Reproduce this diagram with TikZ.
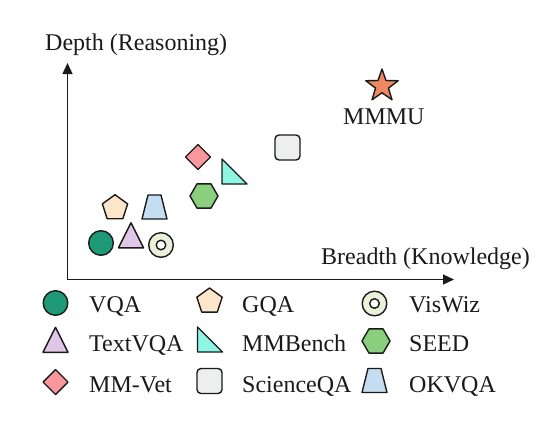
\documentclass[tikz,border=0pt]{standalone}
\usepackage{fontspec}
\setmainfont{Liberation Serif}
\usetikzlibrary{arrows.meta}
\definecolor{cVQA}{HTML}{1F9A76}
\definecolor{cText}{HTML}{E0C7E7}
\definecolor{cViz}{HTML}{E9F1DA}
\definecolor{cGQA}{HTML}{FCE6CB}
\definecolor{cOK}{HTML}{C5DDF1}
\definecolor{cMMV}{HTML}{F9979C}
\definecolor{cMMB}{HTML}{8EF5E3}
\definecolor{cSEED}{HTML}{8ACF7E}
\definecolor{cSci}{HTML}{ECEFED}
\definecolor{cStar}{HTML}{EE8860}
\definecolor{cLine}{HTML}{1A1A1A}
\tikzset{
  mk/.style={draw=cLine, line width=1.4pt, line join=round},
  lbl/.style={inner sep=0pt, anchor=base west, font=\fontsize{24}{28}\selectfont, text=cLine},
  axisline/.style={draw=cLine, line width=1.3pt, -{Triangle[length=11pt,width=10pt]}},
  pics/vqa/.style={code={\draw[mk,fill=cVQA] (0,0) circle (12.3pt);}},
  pics/textvqa/.style={code={\draw[mk,fill=cText] (-12.5pt,-12.3pt) -- (0pt,12.7pt) -- (12.5pt,-12.3pt) -- cycle;}},
  pics/viswiz/.style={code={\draw[mk,fill=cViz] (0,0) circle (12.3pt); \draw[mk,fill=white] (0,0) circle (4.8pt);}},
  pics/gqa/.style={code={\draw[mk,fill=cGQA] (90:13.3pt) -- (162:13.3pt) -- (234:13.3pt) -- (306:13.3pt) -- (18:13.3pt) -- cycle;}},
  pics/okvqa/.style={code={\draw[mk,fill=cOK] (-12.5pt,-12pt) -- (12.5pt,-12pt) -- (6.5pt,12pt) -- (-6.5pt,12pt) -- cycle;}},
  pics/mmvet/.style={code={\draw[mk,fill=cMMV] (0pt,12.5pt) -- (12.5pt,0pt) -- (0pt,-12.5pt) -- (-12.5pt,0pt) -- cycle;}},
  pics/mmbench/.style={code={\draw[mk,fill=cMMB] (-12.5pt,12.5pt) -- (-12.5pt,-12.5pt) -- (12.5pt,-12.5pt) -- cycle;}},
  pics/seed/.style={code={\draw[mk,fill=cSEED] (0:14pt) -- (60:14pt) -- (120:14pt) -- (180:14pt) -- (240:14pt) -- (300:14pt) -- cycle;}},
  pics/sciqa/.style={code={\draw[mk,fill=cSci,rounded corners=4pt] (-12.5pt,-12.5pt) rectangle (12.5pt,12.5pt);}},
  pics/mmmu/.style={code={\draw[mk,fill=cStar] (90:17pt) -- (126:6.8pt) -- (162:17pt) -- (198:6.8pt) -- (234:17pt) -- (270:6.8pt) -- (306:17pt) -- (342:6.8pt) -- (18:17pt) -- (54:6.8pt) -- cycle;}},
}
\begin{document}
\begin{tikzpicture}[x=1pt,y=-1pt]
\useasboundingbox[fill=white] (0,0) rectangle (540,429);
% axes
\coordinate (origin) at (67.5,279.5);
\coordinate (ytip) at (67.5,63);
\coordinate (xtip) at (454,279.5);
\draw[axisline] (origin) -- (ytip);
\draw[axisline] (origin) -- (xtip);
\node[lbl] (ylabel) at (45,50) {Depth (Reasoning)};
\node[lbl] (xlabel) at (321,264) {Breadth (Knowledge)};
% data points
\pic (pVQA) at (101,243) {vqa};
\pic (pText) at (131,235.5) {textvqa};
\pic (pViz) at (161,245) {viswiz};
\pic (pGQA) at (115,208) {gqa};
\pic (pOK) at (154.5,207) {okvqa};
\pic (pMMV) at (198,157) {mmvet};
\pic (pMMB) at (234.5,171.5) {mmbench};
\pic (pSEED) at (204,196) {seed};
\pic (pSci) at (287.5,147.5) {sciqa};
\pic (pMMMU) at (382,86) {mmmu};
\node[lbl] (tMMMU) at (343,124) {MMMU};
% legend
\pic (lVQA) at (55.5,303) {vqa};
\pic (lGQA) at (209.5,301.3) {gqa};
\pic (lViz) at (374.5,303.5) {viswiz};
\pic (lText) at (55.5,340) {textvqa};
\pic (lMMB) at (210,339.5) {mmbench};
\pic (lSEED) at (376,341) {seed};
\pic (lMMV) at (55.5,382) {mmvet};
\pic (lSci) at (209.5,381) {sciqa};
\pic (lOK) at (374.5,380.5) {okvqa};
\node[lbl] (nVQA) at (89,312) {VQA};
\node[lbl] (nGQA) at (242,312) {GQA};
\node[lbl] (nViz) at (409,312) {VisWiz};
\node[lbl] (nText) at (89,351) {TextVQA};
\node[lbl] (nMMB) at (242,351) {MMBench};
\node[lbl] (nSEED) at (409,351) {SEED};
\node[lbl] (nMMV) at (89,392) {MM-Vet};
\node[lbl] (nSci) at (242,392) {ScienceQA};
\node[lbl] (nOK) at (409,392) {OKVQA};
\end{tikzpicture}
\end{document}
